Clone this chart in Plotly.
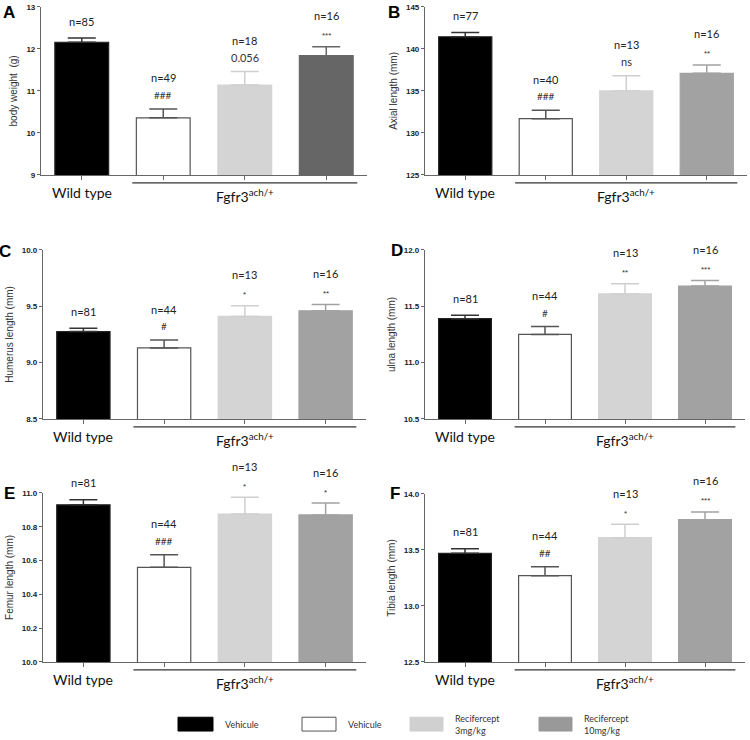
import plotly.graph_objects as go

# ---------------- data ----------------
groups = [0, 1, 2, 3]
group_labels = ["Wild type", "Fgfr3<sup>ach/+</sup>"]
panel_letters = ["A", "B", "C", "D", "E", "F"]
y_titles = ["body weight  (g)", "Axial length (mm)", "Humerus length (mm)",
            "ulna length (mm)", "Femur length (mm)", "Tibia length (mm)"]

means_A = [12.16, 10.36, 11.14, 11.84]
sem_A = [0.10, 0.21, 0.32, 0.21]
n_A = [85, 49, 18, 16]
sig_A = ["", "###", "0.056", "***"]

means_B = [141.45, 131.7, 135.0, 137.1]
sem_B = [0.5, 1.0, 1.8, 1.0]
n_B = [77, 40, 13, 16]
sig_B = ["", "###", "ns", "**"]

means_C = [9.275, 9.13, 9.41, 9.46]
sem_C = [0.03, 0.07, 0.095, 0.055]
n_C = [81, 44, 13, 16]
sig_C = ["", "#", "*", "**"]

means_D = [11.39, 11.25, 11.61, 11.68]
sem_D = [0.03, 0.07, 0.09, 0.05]
n_D = [81, 44, 13, 16]
sig_D = ["", "#", "**", "***"]

means_E = [10.93, 10.56, 10.875, 10.87]
sem_E = [0.03, 0.075, 0.10, 0.07]
n_E = [81, 44, 13, 16]
sig_E = ["", "###", "*", "*"]

means_F = [13.47, 13.27, 13.61, 13.77]
sem_F = [0.04, 0.08, 0.12, 0.07]
n_F = [81, 44, 13, 16]
sig_F = ["", "##", "*", "***"]

y_ranges = [[9, 13], [125, 145], [8.5, 10.0], [10.5, 12.0], [10.0, 11.0], [12.5, 14.0]]
y_dticks = [1, 5, 0.5, 0.5, 0.2, 0.5]
y_formats = ["d", "d", ".1f", ".1f", ".1f", ".1f"]

legend_labels = ["Vehicule", "Vehicule", "Recifercept<br>3mg/kg", "Recifercept<br>10mg/kg"]

# ---------------- style ----------------
W, H = 750, 740
fill_colors = ["#000000", "#ffffff", "#d4d4d4", "#a2a2a2"]
line_colors = ["#222222", "#555555", "#d4d4d4", "#a2a2a2"]
err_colors = ["#333333", "#555555", "#cfcfcf", "#a2a2a2"]
dark_A = "#666666"

# panel pixel boxes: (x_left, x_right, y_top, y_bottom)
boxes = [(41, 367, 3, 173), (425, 747, 3, 173),
         (43, 366, 249, 420), (425, 745, 249, 420),
         (43, 366, 495, 666), (425, 745, 496, 666)]
letter_pos = [(9, 9), (394, 9), (5, 251), (397, 250), (9, 496), (395, 496)]

panels = [(means_A, sem_A, n_A, sig_A), (means_B, sem_B, n_B, sig_B),
          (means_C, sem_C, n_C, sig_C), (means_D, sem_D, n_D, sig_D),
          (means_E, sem_E, n_E, sig_E), (means_F, sem_F, n_F, sig_F)]

fig = go.Figure()
annotations = []
shapes = []
FONT = "Lato"

for p, (means, sems, ns, sigs) in enumerate(panels):
    k = "" if p == 0 else str(p + 1)
    xa, ya = "x" + k, "y" + k
    for i in groups:
        fc = fill_colors[i]
        lc = line_colors[i]
        ec = err_colors[i]
        if p == 0 and i == 3:
            fc, lc, ec = dark_A, dark_A, dark_A
        fig.add_trace(go.Bar(
            x=[groups[i]], y=[means[i]], xaxis=xa, yaxis=ya,
            width=0.66,
            marker=dict(color=fc, line=dict(color=lc, width=1.2)),
            error_y=dict(type="data", symmetric=False, array=[sems[i]], arrayminus=[0],
                         color=ec, thickness=1.5, width=14),
            showlegend=False, hoverinfo="skip"))
        top = means[i] + sems[i]
        if i == 0:
            annotations.append(dict(x=groups[i], y=top, xref=xa, yref=ya, text="n=%d" % ns[i],
                                    showarrow=False, yanchor="middle", yshift=17,
                                    font=dict(family=FONT, size=11, color="#222")))
        else:
            s = sigs[i]
            if s.startswith("*"):
                annotations.append(dict(x=groups[i], y=top, xref=xa, yref=ya, text=s,
                                        showarrow=False, yanchor="middle", yshift=11,
                                        font=dict(family="Arial", size=8, color="#333")))
            else:
                annotations.append(dict(x=groups[i], y=top, xref=xa, yref=ya, text=s,
                                        showarrow=False, yanchor="middle", yshift=14,
                                        font=dict(family=FONT, size=11 if s[0] != "#" else 10,
                                                  color="#333")))
            annotations.append(dict(x=groups[i], y=top, xref=xa, yref=ya, text="n=%d" % ns[i],
                                    showarrow=False, yanchor="middle", yshift=31,
                                    font=dict(family=FONT, size=11, color="#222")))

    xl, xr, yt, yb = boxes[p]
    ph = yb - yt
    fig.update_layout(**{
        ("xaxis" + k): dict(domain=[xl / W, xr / W], range=[-0.5, 3.5], anchor=ya,
                            showline=True, linecolor="#666", linewidth=1.2,
                            tickvals=groups, ticktext=["", "", "", ""], ticks="outside",
                            ticklen=4, tickcolor="#666", showgrid=False, zeroline=False,
                            fixedrange=True),
        ("yaxis" + k): dict(domain=[1 - yb / H, 1 - yt / H], range=y_ranges[p], anchor=xa,
                            showline=True, linecolor="#666", linewidth=1.2,
                            dtick=y_dticks[p], tick0=y_ranges[p][0], tickformat=y_formats[p],
                            ticks="outside", ticklen=3, tickcolor="#666",
                            tickfont=dict(family="Arial", size=8, color="#222", weight="bold"),
                            title=dict(text=y_titles[p], standoff=6,
                                       font=dict(family="Arial", size=10, color="#333")),
                            showgrid=False, zeroline=False, fixedrange=True),
    })
    # bracket under the Fgfr3 groups
    shapes.append(dict(type="line", xref=xa, yref=ya + " domain", x0=0.62, x1=3.38,
                       y0=-8 / ph, y1=-8 / ph, line=dict(color="#333", width=1.2)))
    annotations.append(dict(x=0, y=0, xref=xa, yref=ya + " domain", text=group_labels[0],
                            showarrow=False, yanchor="middle", yshift=-18,
                            font=dict(family=FONT, size=14, color="#111")))
    annotations.append(dict(x=2, y=0, xref=xa, yref=ya + " domain", text=group_labels[1],
                            showarrow=False, yanchor="middle", yshift=-21,
                            font=dict(family=FONT, size=14, color="#111")))
    lx, ly = letter_pos[p]
    annotations.append(dict(x=lx / W, y=1 - ly / H, xref="paper", yref="paper",
                            text="<b>%s</b>" % panel_letters[p], showarrow=False,
                            xanchor="center", yanchor="middle",
                            font=dict(family="Arial", size=17, color="#000")))

# legend
leg_boxes = [(178, 213), (302, 336), (410, 443), (539, 572)]
leg_fill = ["#000000", "#ffffff", "#d0d0d0", "#999999"]
leg_line = ["#000000", "#555555", "#d0d0d0", "#999999"]
for j, lab in enumerate(legend_labels):
    x0, x1 = leg_boxes[j]
    shapes.append(dict(type="rect", xref="paper", yref="paper", x0=x0 / W, x1=x1 / W,
                       y0=1 - 736 / H, y1=1 - 722 / H,
                       fillcolor=leg_fill[j], line=dict(color=leg_line[j], width=1)))
    annotations.append(dict(x=(x1 + 10) / W, y=1 - 729 / H, xref="paper", yref="paper",
                            text=lab, showarrow=False, xanchor="left", yanchor="middle",
                            align="left",
                            font=dict(family=FONT, size=9, color="#333")))

fig.update_layout(width=W, height=H, margin=dict(l=0, r=0, t=0, b=0),
                  paper_bgcolor="white", plot_bgcolor="white", barmode="overlay",
                  annotations=annotations, shapes=shapes)

fig.write_html("out.html", config={"displayModeBar": False},
               post_script="document.body.style.margin='0';")
